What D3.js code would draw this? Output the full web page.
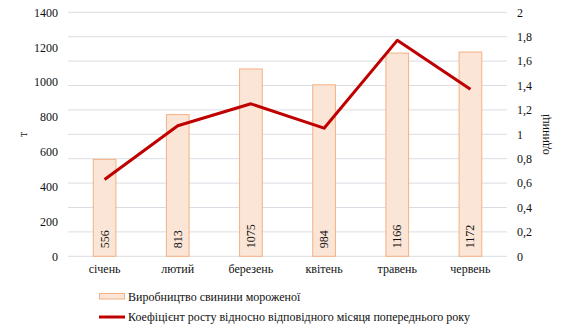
<!DOCTYPE html>
<html>
<head>
<meta charset="utf-8">
<script src="https://cdn.jsdelivr.net/npm/d3@7"></script>
<style>
  html, body { margin: 0; padding: 0; background: #fff; }
  svg { display: block; }
</style>
</head>
<body>
<svg id="chart" width="567" height="331"></svg>
<script>
// Monthly frozen pork production (t) and growth coefficient vs. same month of previous year
const months = ["січень", "лютий", "березень", "квітень", "травень", "червень"];
const production = [556, 813, 1075, 984, 1166, 1172];
const coefficient = [0.63, 1.07, 1.25, 1.05, 1.77, 1.37];
const leftTicks = [0, 200, 400, 600, 800, 1000, 1200, 1400];
const rightTicks = [0, 0.2, 0.4, 0.6, 0.8, 1, 1.2, 1.4, 1.6, 1.8, 2];
const barLabel = "Виробництво свинини мороженої";
const lineLabel = "Коефіцієнт  росту відносно відповідного місяця попереднього року";

const serif = "Liberation Serif";
const ink = "#111";
const svg = d3.select("#chart").attr("font-family", serif);
const plot = { left: 68, right: 507, top: 12.3, bottom: 256.3 };

const x = d3.scaleBand().domain(months).range([plot.left, plot.right]).paddingInner(0.69).paddingOuter(0.345);
const yL = d3.scaleLinear().domain([0, 1400]).range([plot.bottom, plot.top]);
const yR = d3.scaleLinear().domain([0, 2]).range([plot.bottom, plot.top]);
const fmt = d => String(d).replace(".", ",");

function styleAxis(g) {
  g.attr("font-family", serif).attr("font-size", 12);
  g.select(".domain").remove();
  g.selectAll("text").attr("fill", ink).attr("font-family", serif);
}

// gridlines follow the secondary axis
svg.append("g")
  .selectAll("line")
  .data(rightTicks)
  .join("line")
  .attr("x1", plot.left).attr("x2", plot.right)
  .attr("y1", d => yR(d)).attr("y2", d => yR(d))
  .attr("stroke", "#d9dde3").attr("stroke-width", 1);

// left axis
svg.append("g").attr("transform", `translate(${plot.left},0)`)
  .call(d3.axisLeft(yL).tickValues(leftTicks).tickSize(0).tickPadding(10).tickFormat(d => d))
  .call(styleAxis);

// right axis
svg.append("g").attr("transform", `translate(${plot.right},0)`)
  .call(d3.axisRight(yR).tickValues(rightTicks).tickSize(0).tickPadding(10).tickFormat(fmt))
  .call(styleAxis);

// bottom axis
svg.append("g").attr("transform", `translate(0,${plot.bottom})`)
  .call(d3.axisBottom(x).tickSize(0).tickPadding(8))
  .call(styleAxis);

// axis titles
svg.append("text")
  .attr("transform", `translate(27,${(plot.top + plot.bottom) / 2}) rotate(-90)`)
  .attr("text-anchor", "middle").attr("font-size", 12).attr("fill", ink)
  .text("т");
svg.append("text")
  .attr("transform", `translate(549,${(plot.top + plot.bottom) / 2}) rotate(-90)`)
  .attr("text-anchor", "middle").attr("font-size", 12).attr("fill", ink)
  .text("одиниці");

// bars
svg.append("g")
  .selectAll("rect")
  .data(production)
  .join("rect")
  .attr("x", (d, i) => x(months[i]))
  .attr("y", d => yL(d))
  .attr("width", x.bandwidth())
  .attr("height", d => yL(0) - yL(d))
  .attr("fill", "#fbe5d6")
  .attr("stroke", "#f4b183").attr("stroke-width", 1);

// bar value labels
svg.append("g")
  .selectAll("text")
  .data(production)
  .join("text")
  .attr("transform", (d, i) => `translate(${x(months[i]) + x.bandwidth() / 2 + 4},${yL(0) - 8}) rotate(-90)`)
  .attr("text-anchor", "start").attr("font-size", 12).attr("fill", ink)
  .text(d => d);

// growth coefficient line
const line = d3.line()
  .x((d, i) => x(months[i]) + x.bandwidth() / 2)
  .y(d => yR(d));
svg.append("path")
  .datum(coefficient)
  .attr("d", line)
  .attr("fill", "none")
  .attr("stroke", "#c00000").attr("stroke-width", 3)
  .attr("stroke-linejoin", "round");

// legend
const lg = svg.append("g");
lg.append("rect").attr("x", 99.5).attr("y", 293.5).attr("width", 25).attr("height", 5.5)
  .attr("fill", "#fbe5d6").attr("stroke", "#f4b183");
lg.append("text").attr("x", 128).attr("y", 300.5).attr("font-size", 12).attr("fill", ink).text(barLabel);
lg.append("line").attr("x1", 99).attr("x2", 125).attr("y1", 317).attr("y2", 317)
  .attr("stroke", "#c00000").attr("stroke-width", 3);
lg.append("text").attr("x", 128).attr("y", 321).attr("font-size", 12).attr("fill", ink).text(lineLabel);
</script>
</body>
</html>
